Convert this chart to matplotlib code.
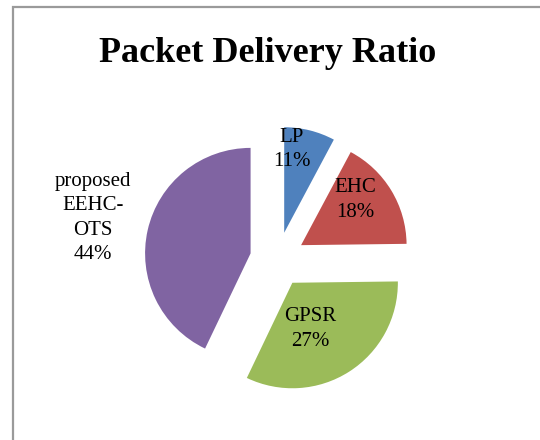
import matplotlib
matplotlib.use("Agg")
import matplotlib.pyplot as plt
from matplotlib.patches import Rectangle

# ---- data ----
categories = ["LP", "EHC", "GPSR", "proposed\nEEHC-\nOTS"]
wedge_values = [7.8, 17.0, 32.3, 42.9]        # slice sizes as drawn
share_labels = ["11%", "18%", "27%", "44%"]    # percentages printed on chart
title = "Packet Delivery Ratio"

# ---- style / layout ----
colors = ["#4F81BD", "#C0504D", "#9BBB59", "#8064A2"]
W, H = 540, 440
center = (277.5, H - 259.5)
radius = 105.5
explode_px = 27.6
label_pos = [(292, H - 149.5), (355.5, H - 200), (310, H - 329), (93, H - 218)]

fig = plt.figure(figsize=(W / 100, H / 100), dpi=100)
fig.patch.set_facecolor("white")
ax = fig.add_axes([0, 0, 1, 1])

ax.pie(wedge_values, colors=colors, startangle=90, counterclock=False,
       explode=[explode_px] * len(wedge_values), radius=radius, center=center,
       wedgeprops=dict(linewidth=0, antialiased=True))
ax.set_xlim(0, W)
ax.set_ylim(0, H)
ax.set_aspect("equal")
ax.axis("off")

# frame (left/top visible, right/bottom cut off)
ax.add_patch(Rectangle((13, -20), W + 40, H - 7 + 20, fill=False,
                       edgecolor="#9a9a9a", linewidth=1.6, clip_on=False))

ax.text(267.5, H - 61.7, title, ha="center", va="baseline",
        fontsize=26, fontweight="bold", family="Liberation Serif", color="black")

for cat, lab, (x, y) in zip(categories, share_labels, label_pos):
    ax.text(x, y, f"{cat}\n{lab}", ha="center", va="center", multialignment="center",
            fontsize=15, family="Liberation Serif", color="black", linespacing=1.37)

fig.savefig("out.png", dpi=100, facecolor="white")
